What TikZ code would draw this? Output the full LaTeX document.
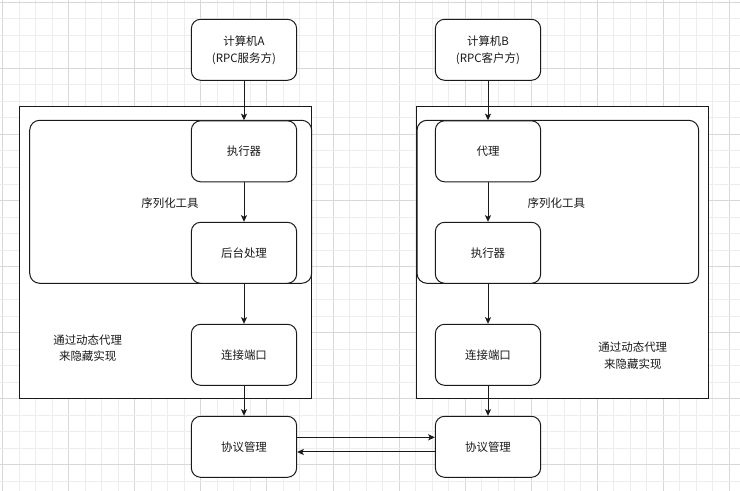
\documentclass[tikz,border=0pt]{standalone}
\usepackage{fontspec}
\setmainfont{Noto Sans CJK SC}
\usetikzlibrary{arrows.meta}
\definecolor{gridminor}{HTML}{EDEDED}
\definecolor{gridmajor}{HTML}{D8D8D8}
\definecolor{ink}{HTML}{1A1A1A}
\tikzset{
  box/.style={draw=ink, line width=0.75pt, fill=white, rounded corners=7pt,
    minimum width=79pt, minimum height=45.75pt, inner sep=0pt, align=center,
    font=\fontsize{8.6}{12.75}\selectfont, text=ink},
  frame/.style={draw=ink, line width=0.75pt, fill=white},
  inner/.style={draw=ink, line width=0.75pt, rounded corners=7.5pt},
  lbl/.style={font=\fontsize{8.6}{12.5}\selectfont, text=ink, align=center, inner sep=0pt},
  arr/.style={draw=ink, line width=0.75pt, -{Stealth[length=5pt,width=4.6pt,inset=1.2pt]}},
}
\begin{document}
\begin{tikzpicture}[x=0.75pt,y=-0.75pt]
\useasboundingbox (0,0) rectangle (740,491);
\fill[white] (0,0) rectangle (740,491);
% grid
\foreach \k in {0,...,44}{
  \pgfmathtruncatemacro{\m}{mod(\k,4)}
  \ifnum\m=0 \def\gc{gridmajor}\else\def\gc{gridminor}\fi
  \draw[\gc, line width=0.75pt] ({2.6+16.52*\k},0) -- ({2.6+16.52*\k},491);
}
\foreach \k in {0,...,29}{
  \pgfmathtruncatemacro{\m}{mod(\k,4)}
  \ifnum\m=0 \def\gc{gridmajor}\else\def\gc{gridminor}\fi
  \draw[\gc, line width=0.75pt] (0,{2.3+16.52*\k}) -- (740,{2.3+16.52*\k});
}
% outer frames
\draw[frame] (19.7,106.7) rectangle (311.7,399);
\draw[frame] (416.3,106.7) rectangle (708.7,399);
% inner rounded (serialization) frames
\draw[inner] (29.7,120.3) rectangle (311.7,283.3);
\draw[inner] (417,120.3) rectangle (698.7,283.3);
% labels
\node[lbl] (serL) at (170,202.7) {序列化工具};
\node[lbl] (serR) at (556.3,202.7) {序列化工具};
\node[lbl] (dynL) at (87.7,348) {通过动态代理\\来隐藏实现};
\node[lbl] (dynR) at (632.8,355.6) {通过动态代理\\来隐藏实现};
% left column
\node[box] (ca) at (244,49.8) {计算机A\\(RPC服务方)};
\node[box] (exL) at (244,151.3) {执行器};
\node[box] (bg) at (244,252.8) {后台处理};
\node[box] (ptL) at (244,354.8) {连接端口};
\node[box] (pmL) at (244,446.8) {协议管理};
% right column
\node[box] (cb) at (488,49.8) {计算机B\\(RPC客户方)};
\node[box] (px) at (488,151.3) {代理};
\node[box] (exR) at (488,252.8) {执行器};
\node[box] (ptR) at (488,354.8) {连接端口};
\node[box] (pmR) at (488,446.8) {协议管理};
% connectors
\draw[arr] (ca) -- (exL);
\draw[arr] (exL) -- (bg);
\draw[arr] (bg) -- (ptL);
\draw[arr] (ptL) -- (pmL);
\draw[arr] (cb) -- (px);
\draw[arr] (px) -- (exR);
\draw[arr] (exR) -- (ptR);
\draw[arr] (ptR) -- (pmR);
\draw[arr] ([yshift=7.1pt]pmL.east) -- ([yshift=7.1pt]pmR.west);
\draw[arr] ([yshift=-3.9pt]pmR.west) -- ([yshift=-3.9pt]pmL.east);
\end{tikzpicture}
\end{document}
